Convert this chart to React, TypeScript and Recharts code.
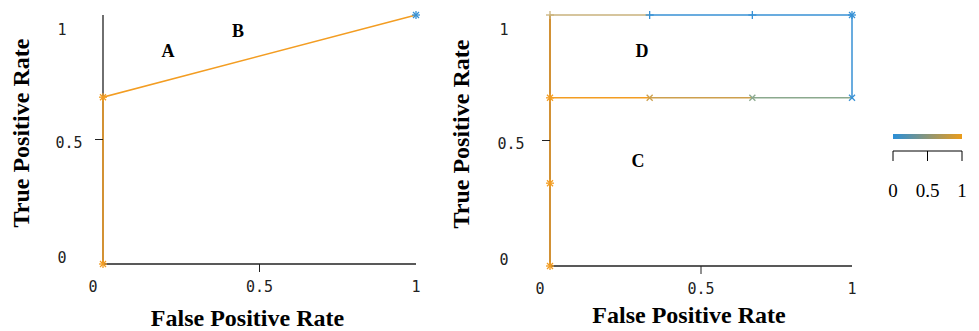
import React from 'react';
import { ScatterChart, Scatter, XAxis, YAxis, ReferenceDot, BarChart, Bar } from 'recharts';

const AXIS_TICKS = [0, 0.5, 1];
const CBAR_TICKS = [0, 0.5, 1];
const CBAR_VALUE = [1];

// left panel: single ROC curve
const leftCurve = [{ x: 0, y: 0 }, { x: 0, y: 0.67 }, { x: 1, y: 1 }];
const leftStarsOrange = [{ x: 0, y: 0 }, { x: 0, y: 0.67 }];
const leftStarsBlue = [{ x: 1, y: 1 }];
const leftTags = [{ t: 'A', x: 0.208, y: 0.855 }, { t: 'B', x: 0.431, y: 0.934 }];

// right panel: segments coloured by threshold
const vertLeft = [{ x: 0, y: 0 }, { x: 0, y: 0.33 }, { x: 0, y: 0.67 }, { x: 0, y: 1 }];
const topTan = [{ x: 0, y: 1 }, { x: 0.33, y: 1 }];
const topBlue = [{ x: 0.33, y: 1 }, { x: 0.67, y: 1 }, { x: 1, y: 1 }];
const rightBlue = [{ x: 1, y: 1 }, { x: 1, y: 0.67 }];
const midOrange = [{ x: 0, y: 0.67 }, { x: 0.33, y: 0.67 }];
const midTan = [{ x: 0.33, y: 0.67 }, { x: 0.67, y: 0.67 }];
const midGreen = [{ x: 0.67, y: 0.67 }, { x: 1, y: 0.67 }];
const rightStarsOrange = [{ x: 0, y: 0 }, { x: 0, y: 0.33 }, { x: 0, y: 0.67 }];
const rightPlusTan = [{ x: 0, y: 1 }];
const rightPlusBlue = [{ x: 0.33, y: 1 }, { x: 0.67, y: 1 }];
const rightStarsBlue = [{ x: 1, y: 1 }];
const rightCrossTan = [{ x: 0.33, y: 0.67 }];
const rightCrossGreen = [{ x: 0.67, y: 0.67 }];
const rightCrossBlue = [{ x: 1, y: 0.67 }];
const rightTags = [{ t: 'D', x: 0.305, y: 0.855 }, { t: 'C', x: 0.291, y: 0.42 }];

const ORANGE = '#f39d22';
const BLUE = '#3791d5';
const TAN = '#c9b27c';
const GOLD = '#cda04e';
const GREEN = '#8ba98e';
const MONO = '"DejaVu Sans Mono", monospace';
const SERIF = '"Liberation Serif", "Times New Roman", serif';

const marker = (kind: 'star' | 'plus' | 'cross', color: string) => (p: any) => {
  const { cx, cy } = p;
  const r = 4;
  const d = r * 0.75;
  return (
    <g stroke={color} strokeWidth={1.3}>
      {kind !== 'cross' && <line x1={cx} x2={cx} y1={cy - r} y2={cy + r} />}
      {kind !== 'cross' && <line x1={cx - r} x2={cx + r} y1={cy} y2={cy} />}
      {kind !== 'plus' && <line x1={cx - d} x2={cx + d} y1={cy - d} y2={cy + d} />}
      {kind !== 'plus' && <line x1={cx - d} x2={cx + d} y1={cy + d} y2={cy - d} />}
    </g>
  );
};
const noDot = () => <g />;

const XTick = (p: any) => {
  const { x, y, payload } = p;
  const v = payload.value;
  return (
    <g>
      {v === 0.5 && <line x1={x} x2={x} y1={y} y2={y + 8} stroke="#222" />}
      <text x={x + (v === 0 ? -10 : 0)} y={y + 28} textAnchor="middle" fontFamily={MONO} fontSize={15} fill="#222">
        {v}
      </text>
    </g>
  );
};

const makeYTick = (base: number) => (p: any) => {
  const { x, y, payload } = p;
  const v = payload.value;
  const dx = v === 0.5 ? base + 7 : base;
  const dy = v === 1 ? 20 : v === 0.5 ? 8 : -1;
  return (
    <g>
      {v === 0.5 && <line x1={x} x2={x - 8} y1={y} y2={y} stroke="#222" />}
      <text x={x + dx} y={y + dy} textAnchor="middle" fontFamily={MONO} fontSize={15} fill="#222">
        {v}
      </text>
    </g>
  );
};

const xTitle = (dy: number) => (p: any) => {
  const vb = p.viewBox;
  return (
    <text x={vb.x + vb.width / 2 - 12} y={vb.y + dy} textAnchor="middle" fontFamily={SERIF} fontWeight="bold" fontSize={24} fill="#000">
      False Positive Rate
    </text>
  );
};

const yTitle = (dx: number) => (p: any) => {
  const vb = p.viewBox;
  const cx = vb.x + vb.width + dx;
  const cy = vb.y + vb.height / 2 - 6.5;
  return (
    <text x={cx} y={cy} transform={`rotate(-90, ${cx}, ${cy})`} textAnchor="middle" fontFamily={SERIF} fontWeight="bold" fontSize={24} fill="#000">
      True Positive Rate
    </text>
  );
};

const tagLabel = (t: string) => (p: any) => {
  const vb = p.viewBox;
  return (
    <text x={vb.x + vb.width / 2} y={vb.y + vb.height / 2 + 6} textAnchor="middle" fontFamily={SERIF} fontWeight="bold" fontSize={18} fill="#000">
      {t}
    </text>
  );
};

const CbarTick = (p: any) => {
  const { x, y, payload } = p;
  return (
    <text x={x} y={y + 36} textAnchor="middle" fontFamily={SERIF} fontSize={19} fill="#000">
      {payload.value}
    </text>
  );
};

const lineStyle = (c: string) => ({ stroke: c, strokeWidth: 1.5 });

export default function App() {
  return (
    <div style={{ position: 'absolute', left: 0, top: 0, width: 979, height: 331, background: '#fff' }}>
      <div style={{ position: 'absolute', left: 0, top: 0 }}>
        <ScatterChart width={440} height={331} margin={{ top: 15, right: 24, bottom: 17, left: 23 }}>
          <XAxis type="number" dataKey="x" domain={[0, 1]} ticks={AXIS_TICKS} height={50} tickSize={0} tickMargin={0}
            tickLine={false} axisLine={{ stroke: '#222', strokeWidth: 1.3 }} tick={XTick} label={{ content: xTitle(62) }} />
          <YAxis type="number" dataKey="y" domain={[0, 1]} ticks={AXIS_TICKS} width={80} tickSize={0} tickMargin={0}
            tickLine={false} axisLine={{ stroke: '#222', strokeWidth: 1.3 }} tick={makeYTick(-41)} label={{ content: yTitle(-74) }} />
          <Scatter data={leftCurve} line={lineStyle(ORANGE)} shape={noDot} isAnimationActive={false} />
          <Scatter data={leftStarsOrange} shape={marker('star', ORANGE)} isAnimationActive={false} />
          <Scatter data={leftStarsBlue} shape={marker('star', BLUE)} isAnimationActive={false} />
          {leftTags.map((d) => (
            <ReferenceDot key={d.t} x={d.x} y={d.y} r={0} fill="none" stroke="none" label={{ content: tagLabel(d.t) }} />
          ))}
        </ScatterChart>
      </div>
      <div style={{ position: 'absolute', left: 440, top: 0 }}>
        <ScatterChart width={430} height={331} margin={{ top: 15, right: 18, bottom: 15, left: 30 }}>
          <XAxis type="number" dataKey="x" domain={[0, 1]} ticks={AXIS_TICKS} height={50} tickSize={0} tickMargin={0}
            tickLine={false} axisLine={{ stroke: '#222', strokeWidth: 1.3 }} tick={XTick} label={{ content: xTitle(57) }} />
          <YAxis type="number" dataKey="y" domain={[0, 1]} ticks={AXIS_TICKS} width={80} tickSize={0} tickMargin={0}
            tickLine={false} axisLine={{ stroke: '#222', strokeWidth: 1.3 }} tick={makeYTick(-46)} label={{ content: yTitle(-81) }} />
          <Scatter data={topTan} line={lineStyle(TAN)} shape={noDot} isAnimationActive={false} />
          <Scatter data={topBlue} line={lineStyle(BLUE)} shape={noDot} isAnimationActive={false} />
          <Scatter data={rightBlue} line={lineStyle(BLUE)} shape={noDot} isAnimationActive={false} />
          <Scatter data={midOrange} line={lineStyle(ORANGE)} shape={noDot} isAnimationActive={false} />
          <Scatter data={midTan} line={lineStyle(GOLD)} shape={noDot} isAnimationActive={false} />
          <Scatter data={midGreen} line={lineStyle(GREEN)} shape={noDot} isAnimationActive={false} />
          <Scatter data={vertLeft} line={lineStyle(ORANGE)} shape={noDot} isAnimationActive={false} />
          <Scatter data={rightPlusTan} shape={marker('plus', TAN)} isAnimationActive={false} />
          <Scatter data={rightPlusBlue} shape={marker('plus', BLUE)} isAnimationActive={false} />
          <Scatter data={rightStarsBlue} shape={marker('star', BLUE)} isAnimationActive={false} />
          <Scatter data={rightCrossTan} shape={marker('cross', GOLD)} isAnimationActive={false} />
          <Scatter data={rightCrossGreen} shape={marker('cross', GREEN)} isAnimationActive={false} />
          <Scatter data={rightCrossBlue} shape={marker('cross', BLUE)} isAnimationActive={false} />
          <Scatter data={rightStarsOrange} shape={marker('star', ORANGE)} isAnimationActive={false} />
          {rightTags.map((d) => (
            <ReferenceDot key={d.t} x={d.x} y={d.y} r={0} fill="none" stroke="none" label={{ content: tagLabel(d.t) }} />
          ))}
        </ScatterChart>
      </div>
      <div style={{ position: 'absolute', left: 870, top: 100 }}>
        <BarChart width={109} height={120} layout="vertical" data={CBAR_VALUE.map((v) => ({ name: 'c', v }))}
          margin={{ top: 22, right: 17, bottom: 29, left: 23 }}>
          <defs>
            <linearGradient id="cbar" x1="0" x2="1" y1="0" y2="0">
              <stop offset="0%" stopColor="#2a8fd8" />
              <stop offset="100%" stopColor="#eb9c1a" />
            </linearGradient>
          </defs>
          <XAxis type="number" domain={[0, 1]} ticks={CBAR_TICKS} height={40} tickSize={10} tickMargin={0}
            axisLine={{ stroke: '#000' }} tickLine={{ stroke: '#000' }} tick={CbarTick} />
          <YAxis type="category" dataKey="name" hide />
          <Bar dataKey="v" barSize={5} fill="url(#cbar)" isAnimationActive={false} />
        </BarChart>
      </div>
    </div>
  );
}
